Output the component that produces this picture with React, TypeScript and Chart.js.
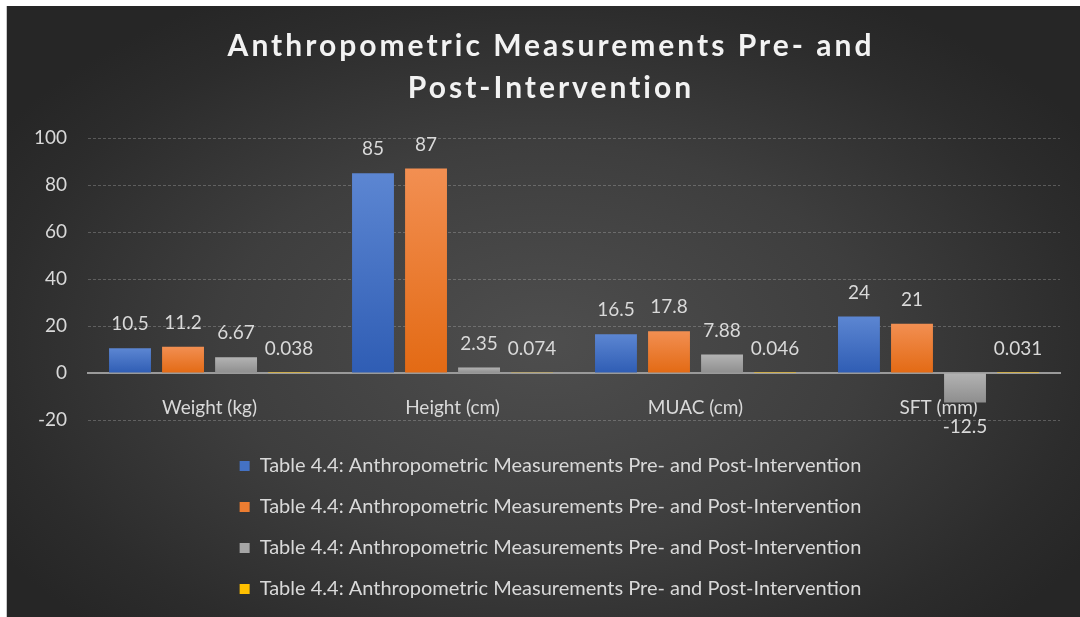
import React, { useEffect, useRef } from "react";
import { Chart, registerables } from "chart.js";

Chart.register(...registerables);

const categories = ["Weight (kg)", "Height (cm)", "MUAC (cm)", "SFT (mm)"];
const seriesLabel = "Table 4.4: Anthropometric Measurements Pre- and Post-Intervention";
const series1 = [10.5, 85, 16.5, 24];
const series2 = [11.2, 87, 17.8, 21];
const series3 = [6.67, 2.35, 7.88, -12.5];
const series4 = [0.038, 0.074, 0.046, 0.031];
const titleLines = ["Anthropometric Measurements Pre- and", "Post-Intervention"];
const yMin = -20;
const yMax = 100;
const yStep = 20;

const FONT = "Lato, 'Open Sans', sans-serif";
const TEXT = "#d9d9d9";

const palettes = [
  { solid: "#4472c4", top: "#5c86d2", bottom: "#2f5db4" },
  { solid: "#ed7d31", top: "#f28f52", bottom: "#e36a14" },
  { solid: "#a5a5a5", top: "#b3b3b3", bottom: "#8e8e8e" },
  { solid: "#ffc000", top: "#ffc000", bottom: "#ffc000" },
];

function makeBg(p: { solid: string; top: string; bottom: string }) {
  return (ctx: any) => {
    const chart = ctx.chart;
    const y = chart.scales && chart.scales.y;
    if (ctx.type !== "data" || !y || typeof ctx.raw !== "number") return p.solid;
    const v = ctx.raw as number;
    const t = y.getPixelForValue(Math.max(v, 0));
    const b = y.getPixelForValue(Math.min(v, 0));
    if (!isFinite(t) || !isFinite(b) || b - t < 1) return p.solid;
    const g = chart.ctx.createLinearGradient(0, t, 0, b);
    g.addColorStop(0, p.top);
    g.addColorStop(1, p.bottom);
    return g;
  };
}

const titlePlugin = {
  id: "customTitle",
  afterDraw(chart: any) {
    const ctx = chart.ctx;
    ctx.save();
    ctx.fillStyle = "#f2f2f2";
    ctx.font = `bold 30px ${FONT}`;
    (ctx as any).letterSpacing = "3px";
    ctx.textAlign = "center";
    ctx.textBaseline = "middle";
    const cx = 544;
    titleLines.forEach((line, i) => {
      ctx.fillText(line, cx, 40 + i * 42);
    });
    ctx.restore();
  },
};

const legendShiftPlugin = {
  id: "legendShift",
  afterLayout(chart: any) {
    const lg = chart.legend;
    if (lg) {
      lg.left += 14;
      lg.right += 14;
    }
  },
};

const valueLabelPlugin = {
  id: "valueLabels",
  afterDatasetsDraw(chart: any) {
    const ctx = chart.ctx;
    ctx.save();
    ctx.fillStyle = TEXT;
    ctx.font = `19px ${FONT}`;
    ctx.textAlign = "center";
    ctx.textBaseline = "middle";
    chart.data.datasets.forEach((ds: any, di: number) => {
      const meta = chart.getDatasetMeta(di);
      meta.data.forEach((el: any, i: number) => {
        const v = ds.data[i] as number;
        const base = el.base;
        if (v >= 0) {
          ctx.fillText(String(v), el.x, Math.min(el.y, base) - 24);
        } else {
          ctx.fillText(String(v), el.x, Math.max(el.y, base) + 24);
        }
      });
    });
    ctx.restore();
  },
};

export default function App() {
  const ref = useRef<HTMLCanvasElement | null>(null);
  useEffect(() => {
    if (!ref.current) return;
    const allSeries = [series1, series2, series3, series4];
    const chart = new Chart(ref.current, {
      type: "bar",
      data: {
        labels: categories,
        datasets: allSeries.map((s, i) => ({
          label: seriesLabel,
          data: s,
          backgroundColor: makeBg(palettes[i]),
          borderWidth: 0,
          categoryPercentage: 0.873,
          barPercentage: 0.79,
        })),
      },
      options: {
        animation: false,
        responsive: false,
        maintainAspectRatio: false,
        layout: { padding: { top: 132, left: 6, right: 20, bottom: 8 } },
        plugins: {
          title: { display: false },
          tooltip: { enabled: false },
          legend: {
            position: "bottom",
            labels: {
              color: TEXT,
              font: { family: FONT, size: 20 },
              boxWidth: 10,
              boxHeight: 10,
              padding: 21,
              generateLabels: (c: any) =>
                c.data.datasets.map((ds: any, i: number) => ({
                  text: ds.label,
                  fillStyle: palettes[i].solid,
                  strokeStyle: palettes[i].solid,
                  lineWidth: 0,
                  fontColor: TEXT,
                  datasetIndex: i,
                  hidden: false,
                })),
            },
          },
        },
        scales: {
          x: {
            position: { y: 0 } as any,
            grid: { display: false, drawTicks: false },
            border: { display: true, color: "#9a9a9a", width: 2 },
            ticks: { color: TEXT, font: { family: FONT, size: 19 }, padding: 23 },
          },
          xSpacer: {
            type: "category",
            position: "bottom",
            grid: { display: false, drawTicks: false },
            border: { display: false },
            ticks: { display: false },
            afterFit: (s: any) => {
              s.height = 15;
            },
          } as any,
          y: {
            min: yMin,
            max: yMax,
            ticks: { stepSize: yStep, color: TEXT, font: { family: FONT, size: 19 }, padding: 21 },
            grid: {
              color: (c: any) => (c.tick && c.tick.value === 0 ? "rgba(0,0,0,0)" : "rgba(200,200,200,0.3)"),
              lineWidth: 1,
              drawTicks: false,
            },
            border: { display: false, dash: [3, 2] },
          },
        },
      },
      plugins: [titlePlugin, valueLabelPlugin, legendShiftPlugin],
    });
    return () => chart.destroy();
  }, []);

  return (
    <div
      style={{
        position: "fixed",
        left: 6,
        top: 6,
        width: 1074,
        height: 611,
        borderLeft: "1px solid #c8c8c8",
        background:
          "radial-gradient(ellipse 60% 65% at 50% 55%, #4e4e4e 0%, #3e3e3e 50%, #2c2c2c 85%, #262626 100%)",
      }}
    >
      <canvas ref={ref} width={1073} height={611} style={{ display: "block", width: 1073, height: 611 }} />
    </div>
  );
}
